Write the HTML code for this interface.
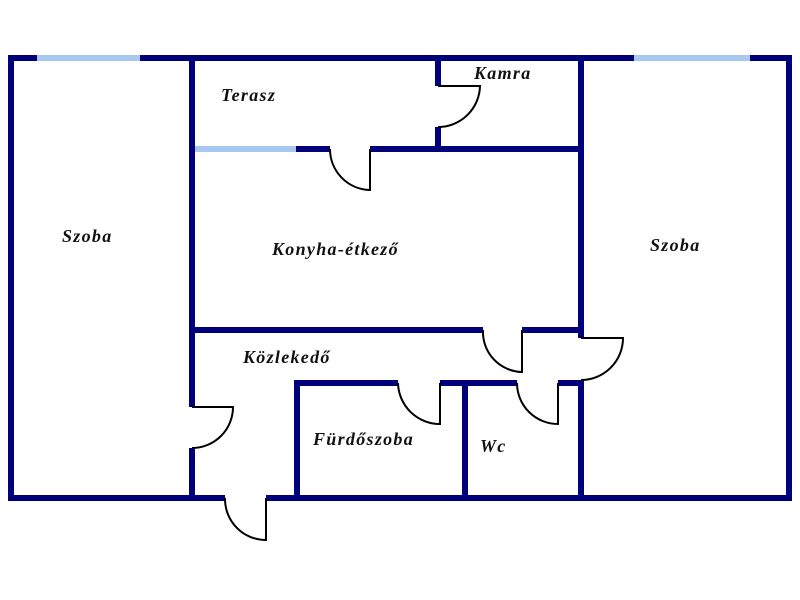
<!DOCTYPE html>
<html><head><style>body{margin:0;background:#fff}svg{display:block}text{font-family:"Liberation Serif",serif;font-style:italic;font-weight:bold;font-size:18px;letter-spacing:1.3px;fill:#111}</style></head>
<body><svg width="800" height="600" viewBox="0 0 800 600">
<g stroke="#00007a" stroke-width="6" fill="none" stroke-linecap="butt">
<line x1="8" y1="58" x2="792" y2="58"/>
<line x1="8" y1="498" x2="225" y2="498"/>
<line x1="266" y1="498" x2="792" y2="498"/>
<line x1="11" y1="55" x2="11" y2="501"/>
<line x1="789" y1="55" x2="789" y2="501"/>
<line x1="192" y1="55" x2="192" y2="407"/>
<line x1="192" y1="448" x2="192" y2="501"/>
<line x1="296" y1="149" x2="330" y2="149"/>
<line x1="370" y1="149" x2="584" y2="149"/>
<line x1="438" y1="55" x2="438" y2="86"/>
<line x1="438" y1="127" x2="438" y2="152"/>
<line x1="581" y1="55" x2="581" y2="338"/>
<line x1="581" y1="380" x2="581" y2="501"/>
<line x1="189" y1="330" x2="483" y2="330"/>
<line x1="522" y1="330" x2="584" y2="330"/>
<line x1="294" y1="383" x2="398" y2="383"/>
<line x1="440" y1="383" x2="517" y2="383"/>
<line x1="558" y1="383" x2="584" y2="383"/>
<line x1="297" y1="380" x2="297" y2="501"/>
<line x1="465" y1="380" x2="465" y2="501"/>
</g>
<g stroke="#a9c8f0" stroke-width="6">
<line x1="37" y1="58" x2="140" y2="58"/>
<line x1="634" y1="58" x2="750" y2="58"/>
<line x1="195" y1="149" x2="296" y2="149"/>
</g>
<g stroke="#000" stroke-width="2" fill="none">
<path d="M192 407 H233 A41 41 0 0 1 192 448"/>
<path d="M370 149 V190 A41 41 0 0 1 330 149"/>
<path d="M438 86 H480 A42 42 0 0 1 438 127"/>
<path d="M581 338 H623 A42 42 0 0 1 581 380"/>
<path d="M522 330 V372 A40 40 0 0 1 483 330"/>
<path d="M440 383 V424 A42 42 0 0 1 398 383"/>
<path d="M558 383 V424 A41 41 0 0 1 517 383"/>
<path d="M266 498 V540 A41 41 0 0 1 225 498"/>
</g>
<text x="62" y="242">Szoba</text>
<text x="221" y="101">Terasz</text>
<text x="474" y="79">Kamra</text>
<text x="272" y="255">Konyha-étkező</text>
<text x="650" y="251">Szoba</text>
<text x="243" y="363">Közlekedő</text>
<text x="313" y="445">Fürdőszoba</text>
<text x="480" y="452">Wc</text>
</svg></body></html>
